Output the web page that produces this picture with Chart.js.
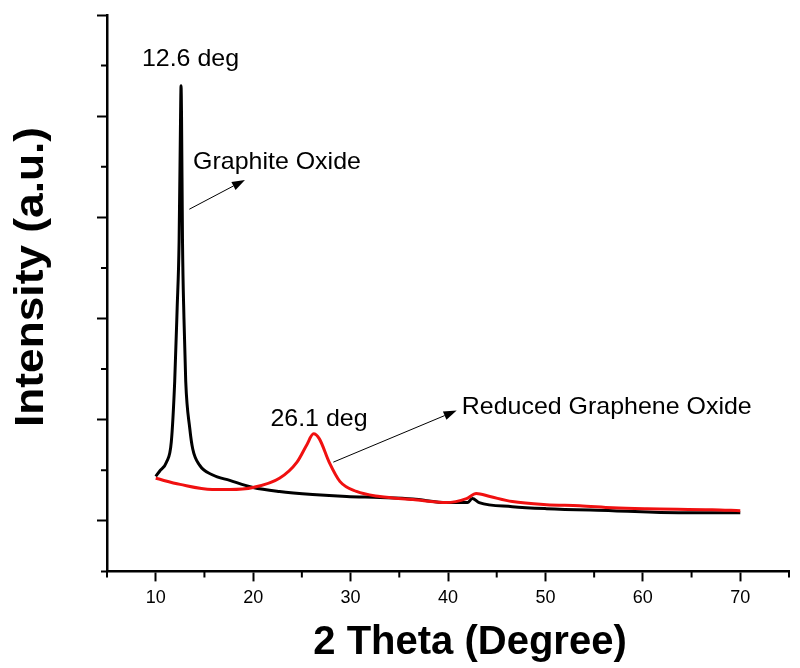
<!DOCTYPE html>
<html>
<head>
<meta charset="utf-8">
<script src="https://cdn.jsdelivr.net/npm/chart.js@4.4.0/dist/chart.umd.min.js"></script>
<style>
  html, body { margin: 0; padding: 0; background: #fff; }
</style>
</head>
<body>
<canvas id="xrd" width="800" height="668"></canvas>
<script>
/* XRD patterns: graphite oxide (black) vs reduced graphene oxide (red).
   Intensity is arbitrary units, y axis has no labels. */

const FONT = '"Liberation Sans", Arial, sans-serif';

// graphite oxide
const goAngle = [10, 10.4, 11.1, 11.6, 11.95, 12.2, 12.4, 12.55, 12.6, 12.65, 12.75, 12.9, 13.08, 13.5, 13.8, 14.5,
  15.8, 17.6, 20, 22.7, 26.1, 29.6, 33, 36.4, 39.9, 42.0, 42.5, 43.2, 46.6, 50.1, 56.9, 63.7, 70];
const goIntensity = [0.44, 0.49, 0.58, 0.78, 1.38, 2.1, 2.76, 4.0, 4.30, 4.0, 2.76, 2.0, 1.38, 0.91, 0.71, 0.55,
  0.455, 0.40, 0.33, 0.29, 0.26, 0.24, 0.23, 0.215, 0.18, 0.18, 0.22, 0.18, 0.14, 0.12, 0.10, 0.08, 0.08];

// reduced graphene oxide
const rgoAngle = [10, 12.5, 15.8, 17.6, 20, 22.7, 24.5, 25.5, 26.2, 26.8, 27.8, 28.9, 30.6, 33, 36.4, 39.8,
  41.9, 42.9, 44.3, 46.6, 50.1, 53.5, 56.9, 60.4, 67.1, 70];
const rgoIntensity = [0.42, 0.36, 0.31, 0.31, 0.33, 0.42, 0.58, 0.75, 0.86, 0.81, 0.58, 0.39, 0.29, 0.24, 0.21, 0.18,
  0.22, 0.27, 0.24, 0.19, 0.16, 0.15, 0.13, 0.12, 0.11, 0.10];

const xMin = 5, xMax = 75, xStep = 5, xLabelEvery = 10;
const yMin = -0.5, yMax = 5, yStep = 0.5;

// annotations, in data units
const labels = [
  { text: "12.6 deg", x: 13.57, y: 4.50, align: "center" },
  { text: "Graphite Oxide", x: 13.83, y: 3.48, align: "left" },
  { text: "26.1 deg", x: 26.76, y: 0.94, align: "center" },
  { text: "Reduced Graphene Oxide", x: 41.41, y: 1.06, align: "left" },
];
const arrows = [
  { x1: 13.45, y1: 3.08, x2: 19.16, y2: 3.37 },
  { x1: 28.23, y1: 0.58, x2: 40.89, y2: 1.09 },
];

const toPoints = (xs, ys) => xs.map((x, i) => ({ x, y: ys[i] }));

function stretchText(ctx, txt, x, y, font, align, sx) {
  ctx.save();
  ctx.font = font;
  ctx.translate(x, y);
  ctx.scale(sx, 1);
  ctx.textAlign = align;
  ctx.textBaseline = "alphabetic";
  ctx.fillStyle = "#000";
  ctx.fillText(txt, 0, 0);
  ctx.restore();
}

const isMajorX = v => Math.abs(v % xLabelEvery) < 1e-6;
const isMajorY = v => Math.abs(v - Math.round(v)) < 1e-6;

// short minor ticks (Chart.js only has one tick length)
const minorTicks = {
  id: "minorTicks",
  afterDraw(chart) {
    const { ctx, scales: { x, y } } = chart;
    ctx.save();
    ctx.strokeStyle = "#000";
    ctx.lineWidth = 2;
    ctx.beginPath();
    for (const t of x.ticks) {
      if (isMajorX(t.value)) continue;
      const px = x.getPixelForValue(t.value);
      ctx.moveTo(px, x.top);
      ctx.lineTo(px, x.top + 6);
    }
    for (const t of y.ticks) {
      if (isMajorY(t.value)) continue;
      const py = y.getPixelForValue(t.value);
      ctx.moveTo(y.right, py);
      ctx.lineTo(y.right - 6, py);
    }
    ctx.stroke();
    ctx.restore();
  }
};

const annotate = {
  id: "annotate",
  afterDraw(chart) {
    const { ctx, chartArea, scales: { x, y } } = chart;
    for (const l of labels) {
      stretchText(ctx, l.text, x.getPixelForValue(l.x), y.getPixelForValue(l.y),
        `24px ${FONT}`, l.align, 1.04);
    }
    ctx.save();
    ctx.strokeStyle = "#000";
    ctx.fillStyle = "#000";
    ctx.lineWidth = 1;
    for (const a of arrows) {
      const x1 = x.getPixelForValue(a.x1), y1 = y.getPixelForValue(a.y1);
      const x2 = x.getPixelForValue(a.x2), y2 = y.getPixelForValue(a.y2);
      const ang = Math.atan2(y2 - y1, x2 - x1);
      const hl = 13, hw = 4.5;
      const bx = x2 - hl * Math.cos(ang), by = y2 - hl * Math.sin(ang);
      ctx.beginPath();
      ctx.moveTo(x1, y1);
      ctx.lineTo(bx, by);
      ctx.stroke();
      ctx.beginPath();
      ctx.moveTo(x2, y2);
      ctx.lineTo(bx + hw * Math.sin(ang), by - hw * Math.cos(ang));
      ctx.lineTo(bx - hw * Math.sin(ang), by + hw * Math.cos(ang));
      ctx.closePath();
      ctx.fill();
    }
    ctx.restore();

    // axis titles
    stretchText(ctx, "2 Theta (Degree)", chartArea.left + 363, chartArea.bottom + 83,
      `bold 40px ${FONT}`, "center", 1.0);
    ctx.save();
    ctx.translate(43, 277);
    ctx.rotate(-Math.PI / 2);
    stretchText(ctx, "Intensity (a.u.)", 0, 0, `bold 41px ${FONT}`, "center", 1.08);
    ctx.restore();
  }
};

new Chart(document.getElementById("xrd"), {
  type: "line",
  data: {
    datasets: [
      { label: "Graphite Oxide", data: toPoints(goAngle, goIntensity), borderColor: "#000000",
        borderWidth: 3, pointRadius: 0, cubicInterpolationMode: "monotone", order: 1 },
      { label: "Reduced Graphene Oxide", data: toPoints(rgoAngle, rgoIntensity), borderColor: "#f01010",
        borderWidth: 3, pointRadius: 0, cubicInterpolationMode: "monotone", order: 0 },
    ]
  },
  options: {
    responsive: false,
    animation: false,
    layout: { padding: { left: 97, top: 15, right: 11, bottom: 53 } },
    plugins: { legend: { display: false }, tooltip: { enabled: false } },
    scales: {
      x: {
        type: "linear", min: xMin, max: xMax,
        border: { display: true, color: "#000", width: 2.5 },
        grid: {
          drawOnChartArea: false, drawTicks: true, tickLength: 10, tickWidth: 2,
          tickColor: c => (c.tick && isMajorX(c.tick.value)) ? "#000" : "rgba(0,0,0,0)"
        },
        ticks: {
          stepSize: xStep, autoSkip: false, maxRotation: 0, padding: 6, color: "#000",
          font: { family: FONT, size: 18 },
          callback: v => isMajorX(v) ? String(v) : ""
        }
      },
      y: {
        type: "linear", min: yMin, max: yMax,
        border: { display: true, color: "#000", width: 2.5 },
        grid: {
          drawOnChartArea: false, drawTicks: true, tickLength: 10, tickWidth: 2,
          tickColor: c => (c.tick && isMajorY(c.tick.value)) ? "#000" : "rgba(0,0,0,0)"
        },
        ticks: { stepSize: yStep, display: false }
      }
    }
  },
  plugins: [minorTicks, annotate]
});
</script>
</body>
</html>
